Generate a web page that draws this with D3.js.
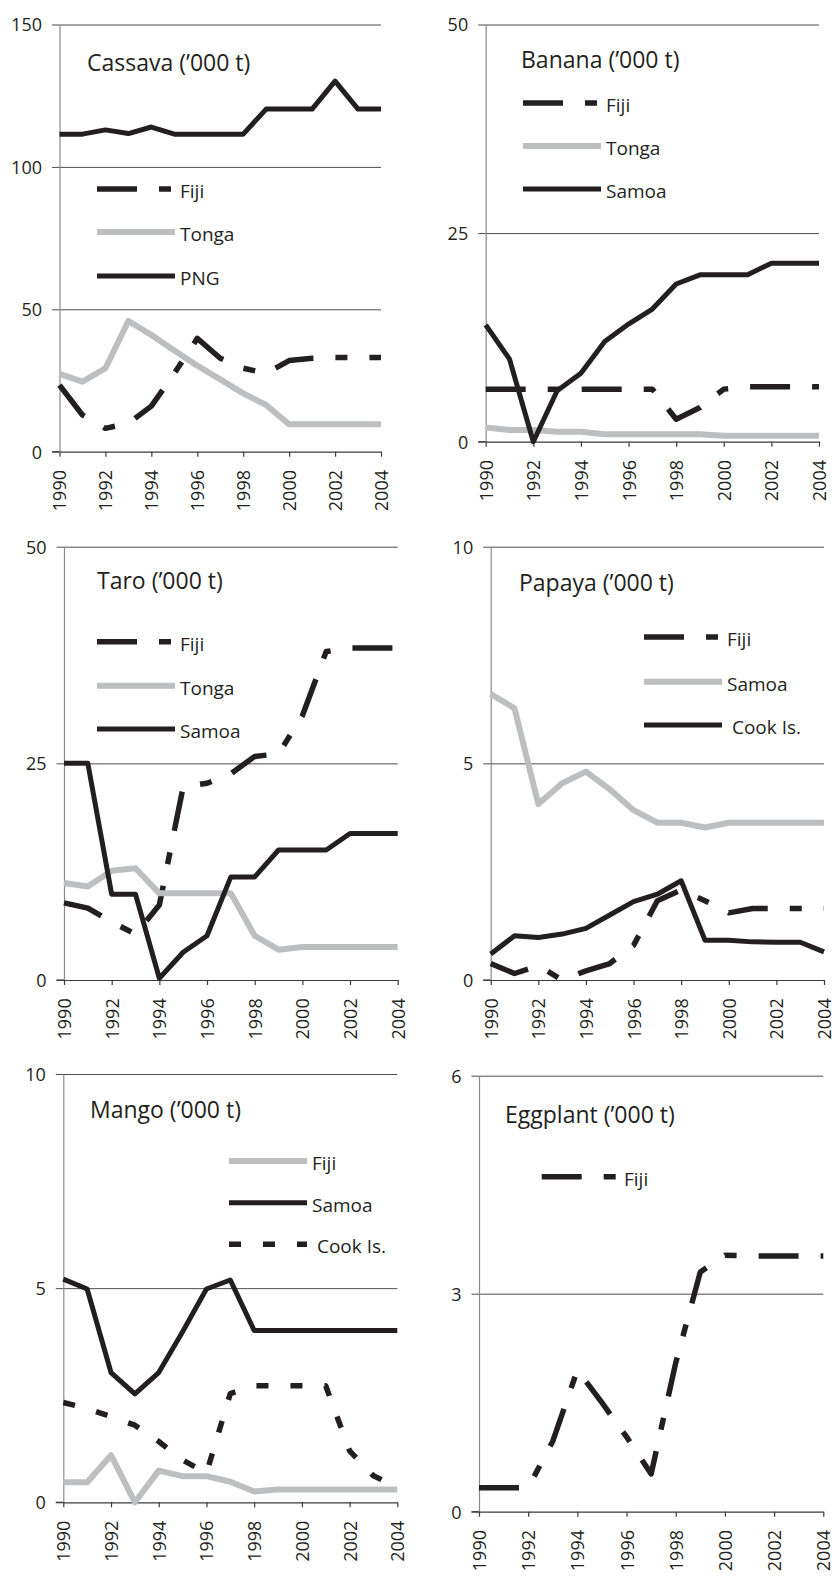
<!DOCTYPE html>
<html><head><meta charset="utf-8">
<script src="https://cdn.jsdelivr.net/npm/d3@7"></script>
<style>
body{margin:0;background:#fff}
svg{display:block}
text{font-family:"Open Sans",sans-serif;fill:#231f20}
</style>
</head><body>
<svg id="chart" width="833" height="1579"></svg>
<script>
// ---------- data ----------
const years = [1990,1991,1992,1993,1994,1995,1996,1997,1998,1999,2000,2001,2002,2003,2004];
const yearTicks = [1990,1992,1994,1996,1998,2000,2002,2004];

const cassavaTicks = [0,50,100,150];
const cassavaFiji  = [23.4,12.9,8.2,10,16,27.5,39.8,32.8,29.3,27.5,32,32.8,33.1,33.1,33.1];
const cassavaTonga = [27.3,24.6,29.3,45.9,41,35.5,30.2,25.4,20.5,16.4,9.6,9.6,9.6,9.6,9.6];
const cassavaPNG   = [111.5,111.5,113,111.7,114,111.5,111.5,111.5,111.5,120.3,120.3,120.3,130.1,120.3,120.3];

const bananaTicks = [0,25,50];
const bananaFiji  = [6.3,6.3,6.3,6.3,6.3,6.3,6.3,6.3,2.7,4.1,6.3,6.6,6.6,6.6,6.6];
const bananaTonga = [1.7,1.4,1.4,1.2,1.2,0.9,0.9,0.9,0.9,0.9,0.7,0.7,0.7,0.7,0.7];
const bananaSamoa = [14,9.9,0,6.1,8.2,12,14.1,15.9,18.9,20,20,20,21.4,21.4,21.4];

const taroTicks = [0,25,50];
const taroFiji  = [8.9,8.3,6.7,5.3,8.65,22.3,22.7,23.8,25.8,26.1,30.5,37.9,38.3,38.3,38.3];
const taroTonga = [11.2,10.8,12.6,12.9,10,10,10,10,5.1,3.5,3.8,3.8,3.8,3.8,3.8];
const taroSamoa = [25,25,9.9,9.9,0.2,3.2,5.1,11.9,11.9,15,15,15,16.9,16.9,16.9];

const papayaTicks = [0,5,10];
const papayaFiji  = [0.38,0.15,0.33,0,0.21,0.38,0.8,1.83,2.08,1.83,1.55,1.65,1.65,1.65,1.65];
const papayaSamoa = [6.6,6.27,4.06,4.54,4.81,4.4,3.92,3.63,3.63,3.52,3.63,3.63,3.63,3.63,3.63];
const papayaCook  = [0.6,1.02,0.98,1.06,1.19,1.5,1.81,1.98,2.29,0.92,0.92,0.88,0.87,0.87,0.65];

const mangoTicks = [0,5,10];
const mangoFiji  = [0.47,0.47,1.1,0,0.74,0.61,0.61,0.48,0.25,0.3,0.3,0.3,0.3,0.3,0.3];
const mangoSamoa = [5.21,4.98,3.03,2.53,3.03,3.98,4.98,5.19,4.01,4.01,4.01,4.01,4.01,4.01,4.01];
const mangoCook  = [2.33,2.19,2.0,1.8,1.42,0.99,0.68,2.54,2.72,2.72,2.72,2.72,1.2,0.62,0.35];

const eggplantTicks = [0,3,6];
const eggplantFiji  = [0.33,0.33,0.33,0.97,1.95,1.5,1.03,0.52,2.05,3.3,3.53,3.52,3.52,3.52,3.52];

// ---------- styles ----------
const BLACK = "#231f20", GRAY = "#bcbec0";
const styles = {
  dashdot: {stroke: BLACK, width: 5.5, dash: "40 22 12 22"},
  gray:    {stroke: GRAY,  width: 6,   dash: null},
  black:   {stroke: BLACK, width: 5,   dash: null},
  dot:     {stroke: BLACK, width: 5.5, dash: "12 22"}
};

// ---------- layout ----------
const panels = [
  {title:"Cassava (\u2019000 t)", ticks:cassavaTicks, x0:59.5, x1:381, yTop:24.5, y0:451.7,
   tx:87, ty:71, lx:97, ltx:180, ly:[189,232,276],
   series:[{name:"Fiji",v:cassavaFiji,s:"dashdot"},{name:"Tonga",v:cassavaTonga,s:"gray"},{name:"PNG",v:cassavaPNG,s:"black"}]},
  {title:"Banana (\u2019000 t)", ticks:bananaTicks, x0:485.7, x1:819, yTop:24.5, y0:441.7,
   tx:521, ty:68, lx:523, ltx:606, ly:[103,146,189],
   series:[{name:"Fiji",v:bananaFiji,s:"dashdot"},{name:"Tonga",v:bananaTonga,s:"gray"},{name:"Samoa",v:bananaSamoa,s:"black"}]},
  {title:"Taro (\u2019000 t)", ticks:taroTicks, x0:64, x1:397.7, yTop:546.7, y0:980,
   tx:97, ty:589, lx:97, ltx:180, ly:[641.7,685.7,729],
   series:[{name:"Fiji",v:taroFiji,s:"dashdot"},{name:"Tonga",v:taroTonga,s:"gray"},{name:"Samoa",v:taroSamoa,s:"black"}]},
  {title:"Papaya (\u2019000 t)", ticks:papayaTicks, x0:490.7, x1:824, yTop:546.7, y0:980,
   tx:519, ty:591, lx:644, ltx:727, ly:[637,681.7,725],
   series:[{name:"Fiji",v:papayaFiji,s:"dashdot"},{name:"Samoa",v:papayaSamoa,s:"gray"},{name:" Cook Is.",v:papayaCook,s:"black"}]},
  {title:"Mango (\u2019000 t)", ticks:mangoTicks, x0:63.3, x1:397.3, yTop:1074, y0:1502.3,
   tx:90, ty:1118, lx:229, ltx:312, ly:[1161,1202.7,1244.3],
   series:[{name:"Fiji",v:mangoFiji,s:"gray"},{name:"Samoa",v:mangoSamoa,s:"black"},{name:" Cook Is.",v:mangoCook,s:"dot"}]},
  {title:"Eggplant (\u2019000 t)", ticks:eggplantTicks, x0:479, x1:823.3, yTop:1075.7, y0:1511.7,
   tx:505, ty:1123, lx:541.7, ltx:624, ly:[1176.7],
   series:[{name:"Fiji",v:eggplantFiji,s:"dashdot"}]}
];

const svg = d3.select("#chart");

panels.forEach(p => {
  const x = d3.scaleLinear().domain([years[0], years[years.length-1]]).range([p.x0, p.x1]);
  const yMax = p.ticks[p.ticks.length-1];
  const y = d3.scaleLinear().domain([0, yMax]).range([p.y0, p.yTop]);
  const g = svg.append("g");

  // gridlines
  const grid = g.append("g").attr("transform", `translate(${p.x0},0)`)
    .call(d3.axisLeft(y).tickValues(p.ticks.filter(t => t !== 0)).tickSize(-(p.x1 - p.x0)).tickFormat(""));
  grid.select(".domain").remove();
  grid.selectAll("line").attr("stroke", "#4d4d4d").attr("stroke-width", 1);

  // left axis with outer ticks + labels
  const ya = g.append("g").attr("transform", `translate(${p.x0},0)`)
    .call(d3.axisLeft(y).tickValues(p.ticks).tickSize(7.5).tickSizeOuter(0).tickPadding(10).tickFormat(d3.format("d")));
  ya.select(".domain").attr("stroke", "#8a8a8a").attr("stroke-width", 1.2);
  ya.selectAll(".tick line").attr("stroke", "#4d4d4d");
  ya.selectAll("text").attr("font-size", 18).attr("font-family", "Open Sans").attr("fill", BLACK).attr("dy", "0.36em");

  // bottom axis
  const xa = g.append("g").attr("transform", `translate(0,${p.y0})`)
    .call(d3.axisBottom(x).tickValues(yearTicks).tickSize(5).tickSizeOuter(0).tickFormat(d3.format("d")));
  xa.select(".domain").attr("stroke", "#3a3a3a").attr("stroke-width", 1.2);
  xa.selectAll(".tick line").attr("stroke", "#3a3a3a").attr("stroke-width", 1.2);
  xa.selectAll("text")
    .attr("font-size", 18).attr("font-family", "Open Sans").attr("fill", BLACK)
    .attr("transform", "rotate(-90)")
    .attr("text-anchor", "end")
    .attr("x", -18.3).attr("y", 0).attr("dy", "0.36em");
  g.append("line").attr("x1", p.x0 - 7.5).attr("x2", p.x0).attr("y1", y(0)).attr("y2", y(0))
    .attr("stroke", "#3a3a3a").attr("stroke-width", 1.2);

  // series
  const line = d3.line().x((d, i) => x(years[i])).y(d => y(d));
  p.series.forEach(s => {
    const st = styles[s.s];
    g.append("path").datum(s.v).attr("d", line)
      .attr("fill", "none").attr("stroke", st.stroke).attr("stroke-width", st.width)
      .attr("stroke-linejoin", "round").attr("stroke-linecap", "butt")
      .attr("stroke-dasharray", st.dash);
  });

  // title
  g.append("text").attr("x", p.tx).attr("y", p.ty).attr("font-size", 23).text(p.title);

  // legend
  p.series.forEach((s, i) => {
    const st = styles[s.s];
    const ly = p.ly[i];
    g.append("line").attr("x1", p.lx).attr("x2", p.lx + 78).attr("y1", ly).attr("y2", ly)
      .attr("stroke", st.stroke).attr("stroke-width", st.width)
      .attr("stroke-dasharray", st.dash);
    g.append("text").attr("x", p.ltx).attr("y", ly + 9).attr("font-size", 19)
      .attr("xml:space", "preserve").style("white-space", "pre").text(s.name);
  });
});
</script>
</body></html>
